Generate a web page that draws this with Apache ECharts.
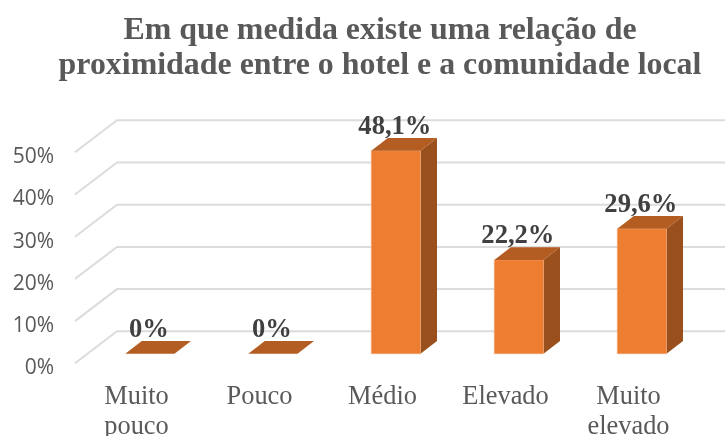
<!DOCTYPE html>
<html>
<head>
<meta charset="utf-8">
<style>html,body{margin:0;padding:0;background:#fff}#c{width:725px;height:436px}</style>
<script src="https://cdn.jsdelivr.net/npm/echarts@6/dist/echarts.min.js"></script>
</head>
<body>
<div id="c"></div>
<script>
const titleText = 'Em que medida existe uma relação de\nproximidade entre o hotel e a comunidade local';
const categories = ['Muito\npouco', 'Pouco', 'Médio', 'Elevado', 'Muito\nelevado'];
const values = [0, 0, 48.1, 22.2, 29.6];
const valueLabels = ['0%', '0%', '48,1%', '22,2%', '29,6%'];
const gridTicks = [0, 10, 20, 30, 40, 50];

const WALL_DX = 42, WALL_DY = 32;
const BAR_SHIFT_X = 13.4, BAR_SHIFT_Y = 9.6;
const BAR_DX = 16.5, BAR_DY = 12.7;
const SERIF = '"Liberation Serif","Times New Roman",serif';

const chart = echarts.init(document.getElementById('c'), null, {renderer: 'canvas'});

function renderGrid(params, api) {
  const cs = params.coordSys;
  const y = api.coord([0, api.value(1)])[1];
  return {
    type: 'polyline', silent: true,
    shape: {points: [[cs.x, y], [cs.x + WALL_DX, y - WALL_DY], [cs.x + cs.width + WALL_DX, y - WALL_DY]]},
    style: {stroke: '#DCDCDC', lineWidth: 2, fill: null}
  };
}

function renderBar(params, api) {
  const idx = api.value(0), v = api.value(1);
  const c = api.coord([idx, v]);
  const base = api.coord([idx, 0]);
  const w = api.size([1, 0])[0] * 0.4;
  const l = c[0] + BAR_SHIFT_X - w / 2, r = l + w;
  const top = c[1] - BAR_SHIFT_Y, bot = base[1] - BAR_SHIFT_Y;
  const children = [];
  if (v > 0) {
    children.push({type: 'polygon', shape: {points: [[r, top], [r + BAR_DX, top - BAR_DY], [r + BAR_DX, bot - BAR_DY], [r, bot]]}, style: {fill: '#9A501C'}});
    children.push({type: 'rect', shape: {x: l, y: top, width: w, height: bot - top}, style: {fill: '#ED7D31', stroke: '#F2A46F', lineWidth: 0.6}});
  }
  children.push({type: 'polygon', shape: {points: [[l, top], [r, top], [r + BAR_DX, top - BAR_DY], [l + BAR_DX, top - BAR_DY]]}, style: {fill: '#B45D22'}});
  children.push({type: 'text', style: {
    text: valueLabels[params.dataIndex], x: (l + r) / 2 - 1, y: top - 10.5,
    align: 'center', verticalAlign: 'bottom',
    font: 'bold 26.6px ' + SERIF, fill: '#404040'
  }});
  return {type: 'group', silent: true, children};
}

chart.setOption({
  animation: false,
  backgroundColor: '#fff',
  title: {
    text: titleText, left: 375, top: 8, textAlign: 'center',
    textStyle: {fontFamily: SERIF, fontWeight: 'bold', fontSize: 31.9, lineHeight: 35, color: '#595959'}
  },
  grid: {left: 75, right: 35, top: 152.3, bottom: 72.7, outerBoundsMode: 'none'},
  xAxis: {
    type: 'category', data: categories,
    axisLine: {show: false}, axisTick: {show: false}, splitLine: {show: false},
    axisLabel: {fontFamily: SERIF, fontSize: 26.4, lineHeight: 30, color: '#595959', margin: 19, interval: 0}
  },
  yAxis: {
    type: 'value', min: 0, max: 50, interval: 10,
    axisLine: {show: false}, axisTick: {show: false}, splitLine: {show: false},
    axisLabel: {fontFamily: '"Open Sans",sans-serif', fontSize: 21, color: '#595959', margin: 21, verticalAlign: 'top', lineHeight: 10, formatter: '{value}%'}
  },
  series: [
    {type: 'custom', coordinateSystem: 'cartesian2d', clip: false, z: 1,
     encode: {x: 0, y: 1},
     data: gridTicks.map((t, i) => [i, t]),
     renderItem: renderGrid},
    {type: 'custom', coordinateSystem: 'cartesian2d', clip: false, z: 2,
     encode: {x: 0, y: 1},
     data: values.map((v, i) => [i, v]),
     renderItem: renderBar}
  ]
});
</script>
</body>
</html>
